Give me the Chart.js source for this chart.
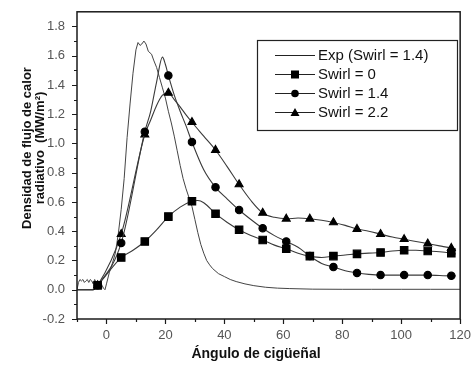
<!DOCTYPE html>
<html>
<head>
<meta charset="utf-8">
<script src="https://cdn.jsdelivr.net/npm/chart.js@4/dist/chart.umd.min.js"></script>
<style>
  body { margin: 0; background: #fff; }
  #wrap { width: 472px; height: 365px; }
</style>
</head>
<body>
<div id="wrap"><canvas id="flux" width="472" height="365"></canvas></div>
<script>
// crank angles where the simulation markers sit
const markAngles = [-3, 5, 13, 21, 29, 37, 45, 53, 61, 69, 77, 85, 93, 101, 109, 117];

// simulated heat flux at the marker angles (MW/m2)
const swirl0Marks  = [0.03, 0.22, 0.33, 0.50, 0.605, 0.52, 0.41, 0.34, 0.28, 0.23, 0.23, 0.245, 0.255, 0.27, 0.265, 0.25];
const swirl14Marks = [0.03, 0.32, 1.08, 1.465, 1.01, 0.70, 0.545, 0.42, 0.33, 0.23, 0.155, 0.115, 0.10, 0.10, 0.10, 0.095];
const swirl22Marks = [0.03, 0.38, 1.06, 1.345, 1.145, 0.955, 0.72, 0.525, 0.485, 0.485, 0.46, 0.415, 0.38, 0.345, 0.315, 0.285];

// extra curve points between markers: [angle, flux]
const swirl0Between = [[-10, 0], [-4.5, 0], [9, 0.27], [17, 0.41], [25, 0.565], [31, 0.61], [33, 0.595], [41, 0.46],
  [49, 0.37], [57, 0.305], [65, 0.25], [73, 0.22], [81, 0.237], [89, 0.25], [97, 0.265], [105, 0.27], [113, 0.26], [118.5, 0.245]];
const swirl14Between = [[-10, 0], [-4.5, 0], [15, 1.22], [17, 1.42], [19, 1.59], [20, 1.54], [23, 1.33], [25, 1.22],
  [27, 1.12], [33, 0.82], [41, 0.62], [49, 0.48], [57, 0.37], [65, 0.29], [73, 0.18], [81, 0.13], [89, 0.105], [118.5, 0.095]];
const swirl22Between = [[-10, 0], [-4.5, 0], [15, 1.16], [17, 1.26], [19, 1.33], [23, 1.30], [25, 1.25], [27, 1.195],
  [33, 1.05], [41, 0.84], [49, 0.61], [57, 0.495], [65, 0.49], [73, 0.475], [81, 0.44], [89, 0.40], [97, 0.36],
  [105, 0.33], [113, 0.30], [118.5, 0.28]];

// measured curve (Swirl = 1.4)
const expAngles = [-10, -9.5, -9, -8.5, -8, -7.5, -7, -6.5, -6, -5.5, -5, -4.5, -4, -3.5, -3, -2.5, -2, -1.5, -1, -0.5,
  0, 1, 2, 3, 4, 5, 6, 7, 8, 9, 10, 10.7, 11.4, 12, 12.7, 13.4, 14.2, 15.3, 16, 17, 18, 19, 20, 21, 22, 23, 24, 25,
  26, 27, 28, 29, 30, 31, 32, 33, 34, 35, 36, 38, 40, 42, 44, 47, 50, 54, 58, 62, 66, 70, 80, 90, 100, 110, 120];
const expValues = [0, 0.05, 0.07, 0.06, 0.07, 0.05, 0.06, 0.07, 0.05, 0.07, 0.06, 0.04, 0.07, 0.05, 0.06, 0.04, 0.05, 0.03, 0.01, 0,
  0.04, 0.12, 0.18, 0.25, 0.38, 0.55, 0.76, 1.04, 1.27, 1.48, 1.64, 1.69, 1.67, 1.68, 1.70, 1.68, 1.63, 1.61, 1.57, 1.52, 1.45, 1.38, 1.31, 1.22, 1.14, 1.05, 0.95, 0.85,
  0.76, 0.69, 0.63, 0.57, 0.48, 0.39, 0.31, 0.25, 0.20, 0.17, 0.145, 0.11, 0.09, 0.07, 0.056, 0.04, 0.028, 0.017, 0.011, 0.008, 0.006, 0.004, 0.003, 0.003, 0.003, 0.003, 0.003];

const seriesLabels = ['Exp (Swirl = 1.4)', 'Swirl = 0', 'Swirl = 1.4', 'Swirl = 2.2'];
const xTitle = 'Ángulo de cigüeñal';
const yTitle = ['Densidad de flujo de calor', 'radiativo  (MW/m²)'];

// merge marker points and in-between points into one sorted curve
function curve(marks, between) {
  const pts = markAngles.map((a, i) => ({ x: a, y: marks[i], mark: true }));
  between.forEach(p => pts.push({ x: p[0], y: p[1], mark: false }));
  return pts.sort((a, b) => a.x - b.x);
}

const lineColor = '#3a3a3a';
const markRadius = { rect: 5.3, circle: 3.7, triangle: 4.6 };

function simSet(label, marks, between, style) {
  return {
    label: label,
    data: curve(marks, between),
    borderColor: lineColor,
    borderWidth: 1.1,
    backgroundColor: '#000',
    pointBorderColor: '#000',
    pointStyle: style,
    pointRadius: ctx => (ctx.raw && ctx.raw.mark ? markRadius[style] : 0),
    pointHoverRadius: 0,
    cubicInterpolationMode: 'monotone',
    order: 1
  };
}

const datasets = [
  {
    label: seriesLabels[0],
    data: expAngles.map((a, i) => ({ x: a, y: expValues[i] })),
    borderColor: '#444',
    borderWidth: 1,
    pointRadius: 0,
    tension: 0,
    order: 2
  },
  simSet(seriesLabels[1], swirl0Marks, swirl0Between, 'rect'),
  simSet(seriesLabels[2], swirl14Marks, swirl14Between, 'circle'),
  simSet(seriesLabels[3], swirl22Marks, swirl22Between, 'triangle')
];

// frame, outward tick marks, axis titles and the boxed legend
const decorations = {
  id: 'decorations',
  afterDraw(chart) {
    const { ctx, chartArea: a, scales: { x, y } } = chart;
    ctx.save();
    ctx.strokeStyle = '#1a1a1a';
    ctx.lineWidth = 1.5;
    ctx.strokeRect(a.left, a.top, a.right - a.left, a.bottom - a.top);

    ctx.lineWidth = 1.2;
    ctx.beginPath();
    for (let v = -10; v <= 120; v += 10) {
      const px = Math.round(x.getPixelForValue(v)) + 0.5;
      const len = v % 20 === 0 ? 5 : 3;
      ctx.moveTo(px, a.bottom);
      ctx.lineTo(px, a.bottom + len);
    }
    for (let k = -2; k <= 18; k++) {
      const py = Math.round(y.getPixelForValue(k / 10)) + 0.5;
      const len = k % 2 === 0 ? 5 : 3;
      ctx.moveTo(a.left, py);
      ctx.lineTo(a.left - len, py);
    }
    ctx.stroke();

    // axis titles
    ctx.fillStyle = '#111';
    ctx.textAlign = 'center';
    ctx.textBaseline = 'middle';
    ctx.font = 'bold 14px "Liberation Sans", Arial, sans-serif';
    ctx.fillText(xTitle, 256, 354);
    ctx.font = 'bold 13px "Liberation Sans", Arial, sans-serif';
    ctx.translate(27, 148);
    ctx.rotate(-Math.PI / 2);
    ctx.fillText(yTitle[0], 0, 0);
    ctx.fillText(yTitle[1], 0, 13);
    ctx.restore();

    // legend
    ctx.save();
    ctx.strokeStyle = '#222';
    ctx.lineWidth = 1.2;
    ctx.strokeRect(257.5, 40.5, 200, 90);
    ctx.font = '15px "Liberation Sans", Arial, sans-serif';
    ctx.textBaseline = 'middle';
    ctx.textAlign = 'left';
    const rows = [55, 74, 93, 112];
    chart.data.datasets.forEach((ds, i) => {
      const ry = rows[i] + 0.5;
      ctx.strokeStyle = '#222';
      ctx.lineWidth = 1;
      ctx.beginPath();
      ctx.moveTo(275, ry);
      ctx.lineTo(315, ry);
      ctx.stroke();
      ctx.fillStyle = '#000';
      if (ds.pointStyle === 'rect') {
        ctx.fillRect(291, ry - 4, 8, 8);
      } else if (ds.pointStyle === 'circle') {
        ctx.beginPath();
        ctx.arc(295, ry, 3.8, 0, Math.PI * 2);
        ctx.fill();
      } else if (ds.pointStyle === 'triangle') {
        ctx.beginPath();
        ctx.moveTo(295, ry - 4.5);
        ctx.lineTo(299.5, ry + 3.5);
        ctx.lineTo(290.5, ry + 3.5);
        ctx.closePath();
        ctx.fill();
      }
      ctx.fillStyle = '#111';
      ctx.fillText(ds.label, 318, ry);
    });
    ctx.restore();
  }
};

const tickFont = { family: '"Liberation Sans", Arial, sans-serif', size: 13 };

new Chart(document.getElementById('flux'), {
  type: 'line',
  data: { datasets: datasets },
  options: {
    responsive: false,
    animation: false,
    layout: { padding: { top: 11, right: 11, left: 0, bottom: 0 } },
    plugins: { legend: { display: false }, tooltip: { enabled: false } },
    scales: {
      x: {
        type: 'linear',
        min: -10,
        max: 120,
        afterFit: s => { s.height = 46; },
        grid: { display: false },
        border: { display: false },
        ticks: {
          stepSize: 10,
          autoSkip: false,
          maxRotation: 0,
          padding: 1,
          color: '#555',
          font: tickFont,
          callback: v => (v % 20 === 0 ? v : '')
        }
      },
      y: {
        min: -0.2,
        max: 1.9,
        afterFit: s => { s.width = 77; },
        afterBuildTicks: s => {
          s.ticks = [];
          for (let k = -2; k <= 18; k += 2) s.ticks.push({ value: k / 10 });
        },
        grid: { display: false },
        border: { display: false },
        ticks: {
          padding: 4,
          color: '#555',
          font: tickFont,
          callback: v => v.toFixed(1)
        }
      }
    }
  },
  plugins: [decorations]
});
</script>
</body>
</html>
